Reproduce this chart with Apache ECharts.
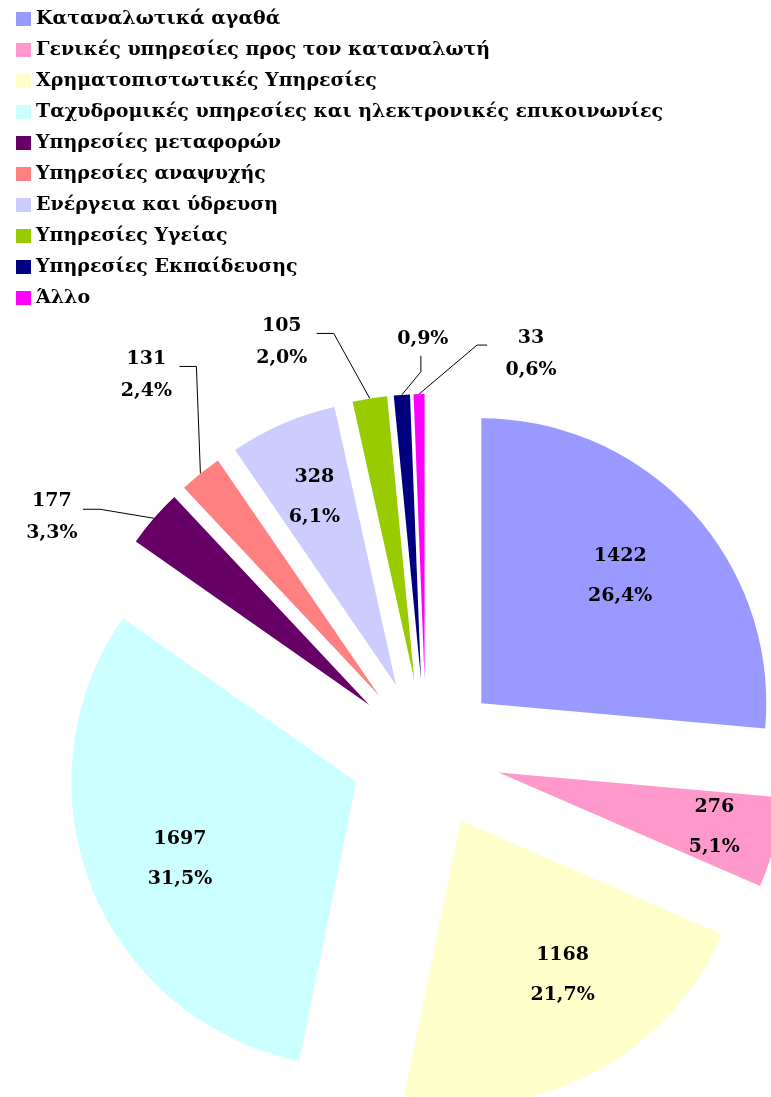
<!DOCTYPE html>
<html>
<head>
<meta charset="utf-8">
<script src="https://cdn.jsdelivr.net/npm/echarts@6/dist/echarts.min.js"></script>
<style>
  html, body { margin: 0; padding: 0; background: #fff; }
  #pieChart { width: 771px; height: 1097px; }
</style>
</head>
<body>
<div id="pieChart"></div>
<script>
// Κατηγορίες παραπόνων
const categories = [
    'Καταναλωτικά αγαθά',
    'Γενικές υπηρεσίες προς τον καταναλωτή',
    'Χρηματοπιστωτικές Υπηρεσίες',
    'Ταχυδρομικές υπηρεσίες και ηλεκτρονικές επικοινωνίες',
    'Υπηρεσίες μεταφορών',
    'Υπηρεσίες αναψυχής',
    'Ενέργεια και ύδρευση',
    'Υπηρεσίες Υγείας',
    'Υπηρεσίες Εκπαίδευσης',
    'Άλλο'
];
const values = [1422, 276, 1168, 1697, 177, 131, 328, 105, 49, 33];
const colors = ['#9999FF', '#FF99CC', '#FFFFCC', '#CCFFFF', '#660066',
                '#FF8080', '#CCCCFF', '#99CC00', '#000080', '#FF00FF'];
// ποιες ετικέτες βγαίνουν έξω με γραμμή
const outsideLabel = [false, false, false, false, true, true, false, true, true, true];
const showValue = [true, true, true, true, true, true, true, true, false, true];

const FONT = '"DejaVu Serif", serif';
const R = 285;

// γραμμές οδηγοί: σπάσιμο, άκρο και κέντρο ετικέτας, σχετικά με το σημείο πάνω στο τόξο
const leaders = {
    4: { elbow: [-54, -9], end: [-71, -9], text: [-102, -1] },
    5: { elbow: [-4, -107], end: [-21, -107], text: [-54, -98] },
    7: { elbow: [-36, -65], end: [-53, -65], text: [-88, -56] },
    8: { elbow: [19, -23], end: [19, -39], text: [21, -56] },
    9: { elbow: [58, -49], end: [68, -49], text: [112, -40] }
};
// εσωτερική ετικέτα: κλάσμα της ακτίνας και στροφή σε μοίρες
const innerPos = { 0: [0.65, 0], 1: [0.77, 0], 2: [0.64, -6], 3: [0.665, -2], 6: [0.71, 0] };

const total = values.reduce((a, b) => a + b, 0);

function midAngle(i) {
    let s = 0;
    for (let j = 0; j < i; j++) s += values[j];
    return (s + values[i] / 2) / total * Math.PI * 2;
}

function drawPie() {
    const chart = echarts.init(document.getElementById('pieChart'));

    const data = categories.map((name, i) => ({
        name,
        value: values[i],
        selected: true,
        itemStyle: { color: colors[i] },
        label: outsideLabel[i]
            ? { position: 'outside', lineHeight: 32 }
            : { position: 'inside', lineHeight: 40 },
        labelLine: { show: outsideLabel[i], length: 20, length2: 10 }
    }));

    const option = {
        animation: false,
        legend: {
            orient: 'vertical',
            left: 11,
            top: 4,
            itemWidth: 15,
            itemHeight: 14,
            itemGap: 11,
            icon: 'rect',
            selectedMode: false,
            data: categories,
            textStyle: {
                fontFamily: FONT,
                fontWeight: 'bold',
                fontSize: 19,
                lineHeight: 20,
                color: '#000'
            }
        },
        series: [{
            type: 'pie',
            center: [426, 754],
            radius: R,
            startAngle: 90,
            clockwise: true,
            selectedMode: 'multiple',
            selectedOffset: 75,
            avoidLabelOverlap: false,
            percentPrecision: 1,
            emphasis: { disabled: true },
            label: {
                fontFamily: FONT,
                fontWeight: 'bold',
                fontSize: 19,
                color: '#000',
                formatter: p => (showValue[p.dataIndex] ? p.value + '\n' : '') +
                    p.percent.toFixed(1).replace('.', ',') + '%'
            },
            labelLine: {
                lineStyle: { color: '#000', width: 1 }
            },
            labelLayout: function (p) {
                const i = p.dataIndex;
                const r = p.labelRect;
                if (!outsideLabel[i]) {
                    const [f, rot] = innerPos[i];
                    const a = midAngle(i) + rot * Math.PI / 180;
                    const a0 = midAngle(i);
                    // θέση ως προς το μέσο της ακτίνας που βάζει η ECharts
                    const tx = f * R * Math.sin(a) - 0.5 * R * Math.sin(a0);
                    const ty = -f * R * Math.cos(a) + 0.5 * R * Math.cos(a0);
                    return { dx: tx, dy: ty };
                }
                const L = leaders[i];
                const s = p.labelLinePoints[0];
                // η ετικέτα είναι στοιχισμένη δεξιά, τη γυρνάμε στο κέντρο
                return {
                    dx: s[0] + L.text[0] - (r.x + r.width),
                    dy: s[1] + L.text[1] - (r.y + r.height / 2),
                    align: 'center',
                    labelLinePoints: [
                        [s[0], s[1]],
                        [s[0] + L.elbow[0], s[1] + L.elbow[1]],
                        [s[0] + L.end[0], s[1] + L.end[1]]
                    ]
                };
            },
            data: data
        }]
    };

    chart.setOption(option);
}

drawPie();
</script>
</body>
</html>
